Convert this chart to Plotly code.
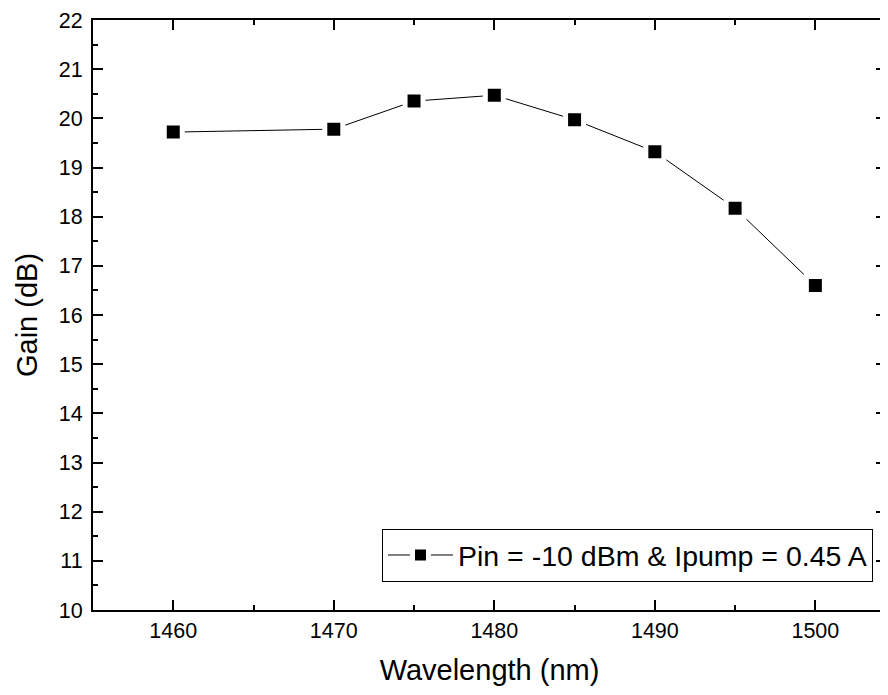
import plotly.graph_objects as go

wavelength = [1460, 1470, 1475, 1480, 1485, 1490, 1495, 1500]
gain = [19.72, 19.78, 20.35, 20.47, 19.97, 19.32, 18.17, 16.60]
series_name = "Pin = -10 dBm & Ipump = 0.45 A"
x_ticks = [1460, 1470, 1480, 1490, 1500]
y_ticks = list(range(10, 23))

FONT = "Liberation Sans, Arial, sans-serif"

fig = go.Figure()
fig.add_trace(go.Scatter(
    x=wavelength, y=gain, mode="lines+markers", name=series_name,
    line=dict(color="black", width=1),
    marker=dict(symbol="square", size=18, color="black",
                line=dict(color="white", width=5)),
))

axis_common = dict(
    showline=True, linecolor="black", linewidth=2, mirror="allticks",
    ticks="inside", ticklen=10, tickwidth=2, tickcolor="black",
    showgrid=False, zeroline=False,
    tickfont=dict(family=FONT, size=21.5, color="black"),
)
fig.update_xaxes(
    range=[1455, 1504.4], tickvals=x_ticks,
    minor=dict(ticks="inside", ticklen=5, tickwidth=2, tickcolor="black", dtick=5, tick0=1455),
    title=dict(text="Wavelength (nm)", font=dict(family=FONT, size=29, color="black"), standoff=18),
    **axis_common,
)
fig.update_yaxes(
    range=[10, 22], tickvals=y_ticks, ticklabelstandoff=4,
    minor=dict(ticks="inside", ticklen=5, tickwidth=2, tickcolor="black", dtick=0.5, tick0=10),
    title=dict(text="Gain (dB)", font=dict(family=FONT, size=29, color="black"), standoff=13),
    **axis_common,
)
fig.update_layout(
    width=880, height=679,
    margin=dict(l=85, r=0, t=12, b=77),
    plot_bgcolor="white", paper_bgcolor="white",
    showlegend=True,
    legend=dict(
        x=0.9836, xanchor="right", y=0.0475, yanchor="bottom",
        bordercolor="black", borderwidth=1, bgcolor="white",
        font=dict(family=FONT, size=28.5, color="black"),
        itemwidth=65,
    ),
    font=dict(family=FONT, color="black"),
)
fig.write_html("out.html")
